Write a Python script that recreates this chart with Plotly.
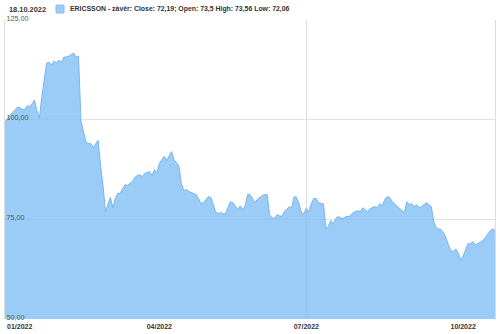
import pandas as pd
import plotly.graph_objects as go

# ---- data ----
START = "2022-01-03"
END = "2022-10-18"
SE_HOLIDAYS = ["2022-01-06", "2022-04-15", "2022-04-18", "2022-05-26",
               "2022-06-06", "2022-06-24"]

close_q1 = [99.3, 100.3, 101.1, 101.8, 102.3, 103.1, 103.1, 102.6, 102.6, 103.4,
            103.4, 103.9, 104.9, 102.3, 100.3, 105.6, 110.4, 114.2, 114.4, 113.7,
            114.7, 114.2, 114.9, 114.4, 115.7, 115.7, 115.9, 116.4, 116.7, 115.7,
            115.9, 99.8, 97.3, 94.5, 94.0, 94.0, 93.0, 94.0, 94.8, 88.5,
            83.5, 76.9, 78.9, 80.5, 77.9, 80.2, 81.5, 81.5, 82.7, 83.7,
            83.5, 84.0, 84.5, 85.5, 86.0, 86.2, 85.7, 86.5, 86.7, 87.0,
            86.0, 87.5, 86.7]
close_q2 = [89.0, 90.0, 90.8, 89.8, 90.8, 92.0, 89.8, 89.3, 88.3, 84.0,
            82.2, 82.5, 82.0, 81.7, 81.5, 81.2, 80.2, 78.9, 79.2, 80.0,
            80.7, 80.5, 78.9, 76.9, 76.4, 76.7, 76.4, 76.4, 77.9, 79.4,
            79.2, 78.2, 77.4, 78.4, 77.4, 78.4, 81.2, 81.2, 80.2, 79.2,
            80.0, 80.5, 81.0, 81.2, 81.2, 76.2, 75.4, 75.2, 76.2, 75.9,
            75.7, 76.9, 77.7, 78.2, 77.9, 80.7, 80.5, 78.9, 76.7, 76.4]
close_q3 = [77.7, 76.9, 78.9, 80.2, 80.2, 79.2, 78.9, 78.9, 72.6, 73.4,
            74.7, 73.9, 75.2, 75.7, 75.4, 75.2, 75.7, 75.7, 75.9, 76.7,
            76.9, 77.2, 76.9, 77.9, 77.4, 76.9, 77.7, 77.9, 78.2, 77.9,
            78.9, 78.4, 80.0, 80.7, 80.5, 79.4, 78.9, 78.4, 77.9, 77.2,
            76.7, 79.4, 78.7, 78.9, 78.2, 78.7, 77.9, 78.2, 78.7, 79.2,
            78.7, 78.2, 74.4, 72.9, 72.6, 72.4, 71.6, 70.4, 68.6, 67.1,
            66.9, 67.6, 66.4, 64.8, 65.8, 67.6]
close_q4 = [68.9, 68.9, 69.4, 68.6, 68.9, 69.1, 69.6, 70.4, 71.4, 72.1,
            72.6, 72.19]

y_ticks = [50, 75, 100, 125]
x_tick_dates = ["2022-01-12", "2022-04-01", "2022-07-01", "2022-09-29"]
x_tick_text = ["01/2022", "04/2022", "07/2022", "10/2022"]
x_grid_dates = ["2022-07-01"]

header_date = "18.10.2022"
series_name = "ERICSSON - závěr: Close: 72,19; Open: 73,5 High: 73,56 Low: 72,06"

# ---- build ----
dates = pd.bdate_range(START, END, freq="C", holidays=SE_HOLIDAYS)
closes = close_q1 + close_q2 + close_q3 + close_q4
assert len(dates) == len(closes), (len(dates), len(closes))

FILL = "rgba(126,190,245,0.78)"
LINE = "#78b6ee"
FONT = "Liberation Sans, Arial, sans-serif"

fig = go.Figure()
fig.add_trace(go.Scatter(
    x=dates, y=closes, mode="lines", name=series_name,
    line=dict(color=LINE, width=1), fill="tozeroy", fillcolor=FILL,
    hoverinfo="skip", showlegend=False,
))

W, H = 500, 334
ML, MR, MT, MB = 5, 5, 20, 15
pw, ph = W - ML - MR, H - MT - MB


def px_x(px):
    return (px - ML) / pw


def px_y(py):
    return (H - MB - py) / ph


fig.update_layout(
    width=W, height=H,
    margin=dict(l=ML, r=MR, t=MT, b=MB),
    paper_bgcolor="white", plot_bgcolor="white",
    separators=", ",
    font=dict(family=FONT, size=7, color="#333"),
    xaxis=dict(
        type="date",
        range=[dates[0], dates[-1]],
        rangebreaks=[dict(bounds=["sat", "mon"]), dict(values=SE_HOLIDAYS)],
        tickmode="array", tickvals=x_tick_dates, ticktext=x_tick_text,
        tickfont=dict(size=7, color="#333", weight="bold", family=FONT),
        ticks="", ticklabelstandoff=2,
        showgrid=False, zeroline=False, showline=False,
        minor=dict(tickmode="array", tickvals=x_grid_dates, showgrid=True,
                   gridcolor="#dcdcdc", gridwidth=1, ticks=""),
        fixedrange=True,
    ),
    yaxis=dict(
        range=[50, 125], tickmode="array", tickvals=y_ticks,
        tickformat=".2f", ticklabelposition="inside", ticklabeloverflow="allow",
        ticklabelshift=-2,
        tickfont=dict(size=7.2, color="#555", family=FONT),
        ticks="", showgrid=True, gridcolor="#e2e2e2", gridwidth=1,
        zeroline=False, showline=True, linecolor="#dcdcdc", linewidth=1,
        mirror=True, fixedrange=True,
    ),
    showlegend=False,
)

# header: date, series swatch and series name
fig.add_annotation(
    text="<b>%s</b>" % header_date, xref="paper", yref="paper",
    x=px_x(7), y=px_y(9), xanchor="left", yanchor="middle",
    showarrow=False, font=dict(size=7.4, color="#333", family=FONT),
)
fig.add_shape(
    type="rect", xref="paper", yref="paper",
    x0=px_x(56), x1=px_x(64), y0=px_y(13), y1=px_y(5),
    fillcolor="#9ccbf5", line=dict(color="#86bff2", width=1),
)
fig.add_annotation(
    text="<b>%s</b>" % series_name, xref="paper", yref="paper",
    x=px_x(68), y=px_y(9), xanchor="left", yanchor="middle",
    showarrow=False, font=dict(size=6.9, color="#333", family=FONT),
)

fig.write_html("out.html", config=dict(displayModeBar=False))
